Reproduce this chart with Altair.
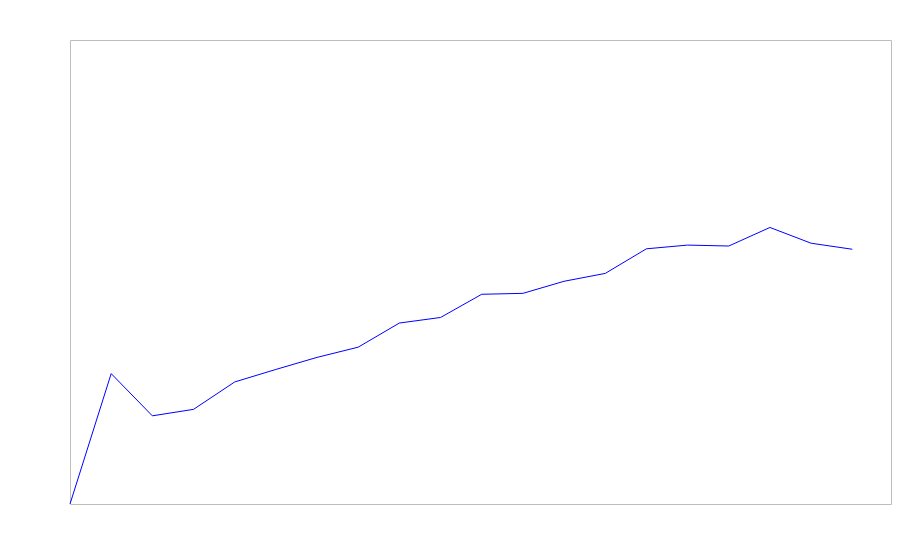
import altair as alt
import pandas as pd

steps = list(range(20))
values = [0.0, 28.1, 19.0, 20.4, 26.3, 29.0, 31.6, 33.8, 39.0, 40.2,
          45.2, 45.4, 48.0, 49.7, 55.0, 55.8, 55.6, 59.6, 56.2, 54.9]

df = pd.DataFrame({"step": steps, "value": values})

chart = alt.Chart(df).mark_line(color="#0000ff", strokeWidth=1).encode(
    x=alt.X("step:Q", scale=alt.Scale(domain=[0, 19.94], nice=False, zero=False), axis=None),
    y=alt.Y("value:Q", scale=alt.Scale(domain=[0, 100], nice=False), axis=None),
).properties(
    width=821,
    height=464,
    padding={"left": 62, "top": 32, "right": 1, "bottom": 9},
    autosize=alt.AutoSizeParams(type="none"),
).configure_view(stroke="#bdbdbd", strokeWidth=1)

chart.save("out.html", embed_options={"renderer": "svg", "actions": False})
